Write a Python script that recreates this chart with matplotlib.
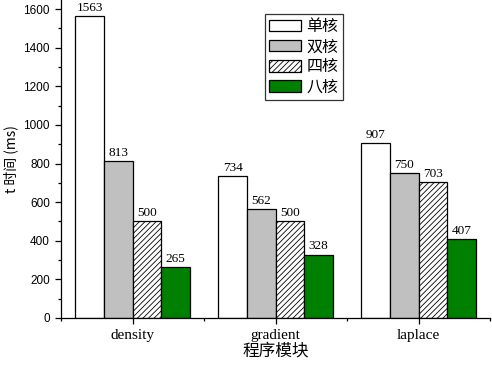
import numpy as np
import matplotlib
matplotlib.use("Agg")
import matplotlib.pyplot as plt
from matplotlib.ticker import MultipleLocator

plt.rcParams['font.family'] = ['Noto Sans CJK SC', 'DejaVu Sans']
plt.rcParams['hatch.linewidth'] = 0.6

modules = ['density', 'gradient', 'laplace']
series = ['单核', '双核', '四核', '八核']
single = [1563, 734, 907]
dual = [813, 562, 750]
quad = [500, 500, 703]
octa = [265, 328, 407]

colors = ['white', '#c0c0c0', 'white', '#008000']
hatches = [None, None, '//////', None]

fig = plt.figure(figsize=(4.92, 3.65), dpi=100)
ax = fig.add_axes([61/492, 47/365, 429/492, 318/365])

x = np.arange(len(modules))
w = 0.2
for i, vals in enumerate([single, dual, quad, octa]):
    pos = x + (i - 1.5) * w
    bars = ax.bar(pos, vals, width=w, color=colors[i], edgecolor='black',
                  linewidth=0.9, hatch=hatches[i], label=series[i])
    for b, v in zip(bars, vals):
        ax.text(b.get_x() + b.get_width() / 2, v + 12, str(v), ha='center',
                va='bottom', fontsize=9.5, family='Liberation Serif')

ax.set_xlim(-0.5, 2.5)
ax.set_ylim(0, 1600 * 318 / 309)
ax.set_xticks(x)
ax.set_xticklabels(modules, family='Liberation Serif', fontsize=11)
ax.xaxis.set_minor_locator(MultipleLocator(0.5))
ax.yaxis.set_major_locator(MultipleLocator(200))
ax.yaxis.set_minor_locator(MultipleLocator(100))
for lab in ax.get_yticklabels():
    lab.set_family('Liberation Sans')
    lab.set_fontsize(8.5)
ax.tick_params(which='major', length=4.5, width=0.9)
ax.tick_params(which='minor', length=2.5, width=0.9)
ax.spines['top'].set_visible(False)
ax.spines['right'].set_visible(False)
ax.spines['left'].set_linewidth(0.9)
ax.spines['bottom'].set_linewidth(0.9)

ax.set_ylabel('t 时间 (ms)', fontsize=10, labelpad=4)
ax.set_xlabel('程序模块', fontsize=12, labelpad=0)

leg = ax.legend(loc='upper left', bbox_to_anchor=(204/429, 1 - 14/318),
                borderaxespad=0, fontsize=11.5, frameon=True, fancybox=False,
                edgecolor='black', handlelength=2.0, handleheight=0.75,
                labelspacing=0.2, borderpad=0.25, handletextpad=0.35)
leg.get_frame().set_linewidth(0.9)

fig.savefig('out.png', dpi=100)
